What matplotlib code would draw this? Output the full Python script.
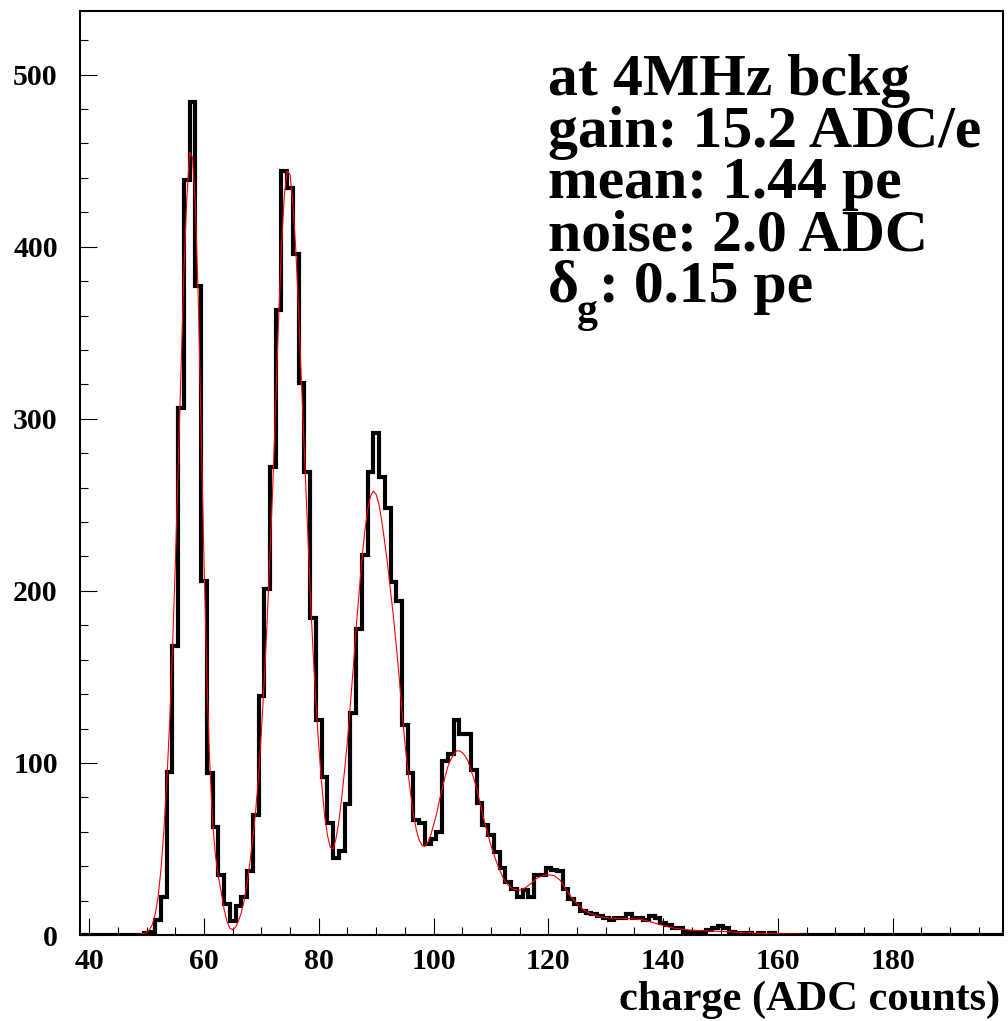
import matplotlib.pyplot as plt
import numpy as np

plt.rcParams['font.family'] = ['Liberation Serif', 'DejaVu Serif']
plt.rcParams['font.weight'] = 'bold'

# charge spectrum, 1 ADC bins, centres from first_bin on
first_bin = 48
counts = [0, 0, 1, 2, 9, 22, 95, 168, 306, 439,        # 48-57
          484, 377, 206, 94, 63, 35, 18, 8, 17, 22,     # 58-67
          37, 70, 139, 201, 272, 363, 444, 434, 396, 321,  # 68-77
          269, 184, 125, 92, 65, 45, 49, 76, 129, 178,  # 78-87
          221, 269, 292, 266, 248, 205, 194, 122, 94, 67,  # 88-97
          65, 53, 56, 60, 101, 105, 125, 117, 117, 96,  # 98-107
          77, 64, 58, 48, 39, 31, 27, 22, 26, 22,       # 108-117
          35, 35, 39, 38, 37, 27, 21, 18, 14, 13,       # 118-127
          12, 11, 10, 9, 10, 10, 12, 10, 10, 9,         # 128-137
          11, 10, 7, 6, 4, 4, 2, 2, 1, 2,               # 138-147
          3, 4, 5, 4, 2, 1, 1, 1, 0, 1,                 # 148-157
          0, 1, 0]                                      # 158-160

# fitted curve (red)
fit_x = [38.4, 45, 47, 48, 49, 50, 50.5, 51, 51.5, 52, 52.5, 53, 53.5, 54, 54.5,
         55, 55.5, 56, 56.5, 57, 57.5, 58, 58.5, 59, 59.5, 60, 60.5, 61, 61.5,
         62, 62.5, 63, 63.5, 64, 64.5, 65, 65.5, 66, 66.5, 67, 67.5, 68, 68.5,
         69, 69.5, 70, 70.5, 71, 71.5, 72, 72.5, 73, 73.5, 74, 74.5, 75, 75.5,
         76, 76.5, 77, 77.5, 78, 78.5, 79, 79.5, 80, 80.5, 81, 81.5, 82, 82.5,
         83, 83.5, 84, 84.5, 85, 85.5, 86, 86.5, 87, 87.5, 88, 88.5, 89, 89.5,
         90, 90.5, 91, 91.5, 92, 92.5, 93, 93.5, 94, 94.5, 95, 95.5, 96, 96.5,
         97, 97.5, 98, 98.5, 99, 99.5, 100, 100.5, 101, 101.5, 102, 102.5, 103,
         103.5, 104, 104.5, 105, 105.5, 106, 106.5, 107, 107.5, 108, 108.5, 109,
         109.5, 110, 110.5, 111, 111.5, 112, 112.5, 113, 113.5, 114, 115, 116,
         117, 118, 119, 120, 121, 122, 123, 124, 125, 126, 127, 128, 129, 130,
         131, 132, 133, 134, 135, 136, 137, 138, 139, 140, 141, 142, 143, 144,
         145, 146, 147, 148, 149, 150, 152, 154, 156, 158, 160, 163, 166, 170,
         175, 180, 199.5]
fit_y = [0, 0, 0, 0.2, 0.6, 1.5, 3, 6, 12, 22, 38, 60, 88, 122, 165,
         215, 272, 330, 385, 428, 455, 452, 425, 370, 295, 218, 150, 100, 66,
         46, 34, 25, 15, 8, 4, 3, 4.5, 8, 13, 20, 30, 42, 56,
         72, 92, 118, 148, 182, 222, 262, 310, 358, 400, 430, 444, 442, 425,
         398, 362, 320, 280, 240, 200, 165, 135, 110, 88, 70, 58, 51, 50,
         56, 66, 80, 96, 113, 134, 155, 178, 198, 218, 234, 247, 255, 258,
         256, 250, 240, 228, 215, 200, 185, 168, 150, 130, 112, 96, 82, 70,
         61, 55, 52, 51.5, 54, 58, 64, 70, 78, 85, 92, 98, 102,
         105, 107, 107, 106, 104, 101, 96, 91, 85, 78, 71, 64,
         58, 52, 47, 42, 38, 34, 31, 29, 27.5, 26.5, 26, 27.5,
         30, 33, 34.5, 35, 34.5, 32, 27, 22, 18, 15, 13, 11.5, 10.5, 10,
         9.8, 9.7, 9.7, 9.5, 9.3, 9, 8.3, 7.5, 6.5, 5.5, 4.6, 4, 3.5, 3.1,
         2.8, 2.6, 2.4, 2.3, 2.2, 2.1, 1.8, 1.4, 1.1, 0.9, 0.7, 0.5, 0.3, 0.15,
         0.05, 0, 0]

info_lines = ["at 4MHz bckg", "gain: 15.2 ADC/e", "mean: 1.44 pe", "noise: 2.0 ADC"]

W, H = 1008, 1021
fig = plt.figure(figsize=(W / 100, H / 100), dpi=100)
ax = fig.add_axes([80 / W, 1 - 935 / H, 923 / W, 924 / H])

vals = np.zeros(161)
vals[first_bin - 39:first_bin - 39 + len(counts)] = counts
edges = np.arange(38.5, 200.0, 1.0)
ax.stairs(vals, edges, color='black', lw=3.0, baseline=None)
ax.plot(fit_x, fit_y, color='red', lw=0.8)

ax.set_xlim(38.4, 199.2)
ax.set_ylim(0, 537)
ax.set_xticks(np.arange(40, 200, 20))
ax.set_xticks(np.arange(40, 200, 5), minor=True)
ax.set_yticks(np.arange(0, 600, 100))
ax.set_yticks(np.arange(0, 540, 20), minor=True)
ax.tick_params(which='both', direction='in', top=False, right=False, width=0.8)
ax.tick_params(which='major', length=12)
ax.tick_params(which='minor', length=6)
ax.tick_params(axis='x', which='major', labelsize=21.5, pad=9)
ax.tick_params(axis='y', which='major', labelsize=21.5, pad=16)
for lab in ax.get_xticklabels() + ax.get_yticklabels():
    lab.set_fontweight('bold')
for sp in ax.spines.values():
    sp.set_linewidth(1.5)

fig.text(1000 / W, 1 - 1010 / H, "charge (ADC counts)", ha='right', va='baseline',
         fontsize=30.5, fontweight='bold')

for i, line in enumerate(info_lines):
    fig.text(548 / W, 1 - (95 + 51.7 * i) / H, line, ha='left', va='baseline',
             fontsize=43, fontweight='bold')
y5 = 1 - 302 / H
fig.text(548 / W, y5, "δ", ha='left', va='baseline', fontsize=43, fontweight='bold')
fig.text(577 / W, 1 - 322 / H, "g", ha='left', va='baseline', fontsize=30, fontweight='bold')
fig.text(599 / W, y5, ": 0.15 pe", ha='left', va='baseline', fontsize=43, fontweight='bold')

fig.savefig("out.png", dpi=100)
